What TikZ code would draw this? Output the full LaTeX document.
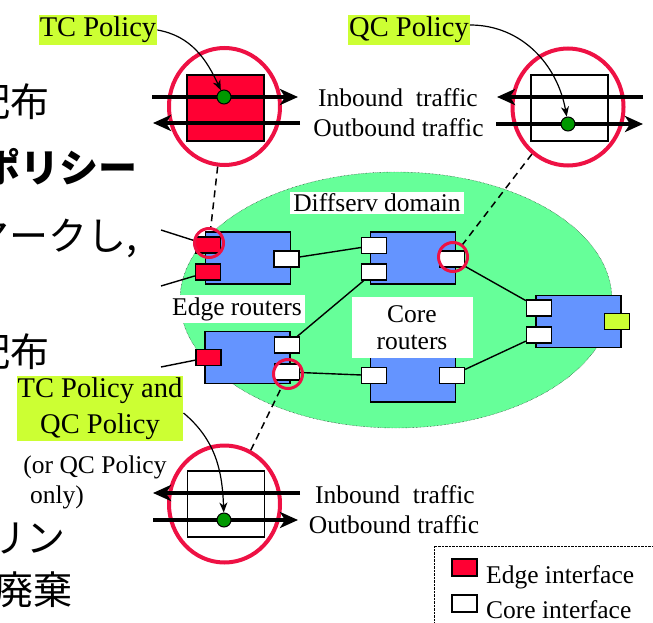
\documentclass[tikz,border=0pt]{standalone}
\usepackage{fontspec}
\setmainfont{Liberation Serif}
\newfontfamily\jpfont{Noto Sans CJK JP}
\usetikzlibrary{arrows.meta,shapes.geometric}
\definecolor{domaingreen}{HTML}{66FF99}
\definecolor{routerblue}{HTML}{6494FF}
\definecolor{edgered}{HTML}{FF0033}
\definecolor{ringred}{HTML}{EE1144}
\definecolor{policylime}{HTML}{CCFF33}
\definecolor{dotgreen}{HTML}{009900}

\begin{document}
\begin{tikzpicture}[x=1pt,y=-1pt]
\tikzset{router/.style = {draw,fill=routerblue,line width=1.3pt,minimum width=85pt,minimum height=52pt,inner sep=0pt}}
\tikzset{edgeif/.style = {draw,fill=edgered,line width=1.3pt,minimum width=25pt,minimum height=16pt,inner sep=0pt}}
\tikzset{coreif/.style = {edgeif,fill=white}}
\tikzset{limeif/.style = {edgeif,fill=policylime}}
\tikzset{ring/.style = {draw=ringred,line width=4pt,shape=ellipse,minimum width=111pt,minimum height=117pt}}
\tikzset{spot/.style = {draw=ringred,line width=3pt,shape=circle,minimum size=29pt,inner sep=0pt}}
\tikzset{lens/.style = {draw,line width=1.3pt,minimum width=77pt,minimum height=66pt,inner sep=0pt}}
\tikzset{dot/.style = {draw,line width=1pt,fill=dotgreen,shape=circle,minimum size=14pt,inner sep=0pt}}
\tikzset{flow/.style = {line width=4pt,-{Stealth[length=18pt,width=16pt,inset=5pt]}}}
\tikzset{hint/.style = {line width=1.2pt,-{Stealth[length=10pt,width=8pt,inset=3pt]}}}
\tikzset{link/.style = {line width=1.4pt}}
\tikzset{zoomline/.style = {line width=1.5pt,dash pattern=on 7pt off 5pt}}
\tikzset{policy/.style = {fill=policylime,inner xsep=1pt,inner ysep=2pt,font=\fontsize{28.5}{36}\selectfont,align=center}}
\tikzset{tag/.style = {fill=white,inner xsep=3pt,inner ysep=2pt,font=\fontsize{25.5}{31}\selectfont,align=center}}
\tikzset{txt/.style = {inner sep=0pt,anchor=base,font=\fontsize{25.5}{31}\selectfont}}
\tikzset{jp/.style = {inner sep=0pt,anchor=base east,font=\jpfont\fontsize{39}{40}\selectfont}}
\useasboundingbox (0,0) rectangle (653,623);
% slide text cut at the left edge
\node[jp] (j1) at (50,117) {配布};
\node[jp,font=\jpfont\bfseries\fontsize{39}{40}\selectfont] (j2) at (138,182) {ポリシー};
\node[jp] (j3) at (138,250) {マークし,};
\node[jp] (j4) at (50,366) {配布};
\node[jp] (j5) at (66,552) {リン};
\node[jp] (j6) at (73,604) {廃棄};
% domain
\draw[densely dotted,fill=domaingreen] (396,300) ellipse [x radius=216pt, y radius=128pt];
% routers
\node[router] (r1) at (248,258)   {};
\node[router] (r2) at (247.5,357.5) {};
\node[router] (r3) at (413,258)   {};
\node[router] (r4) at (413,376)   {};
\node[router] (r5) at (578.5,321.5) {};
% interfaces
\node[edgeif] (e1a) at (208,245)   {};
\node[edgeif] (e1b) at (208,272)   {};
\node[coreif] (c1)  at (286.5,259) {};
\node[edgeif] (e2)  at (208.5,357.5) {};
\node[coreif] (c2a) at (287,345)   {};
\node[coreif] (c2b) at (287,372)   {};
\node[coreif] (c3a) at (374,245.5) {};
\node[coreif] (c3b) at (374,272)   {};
\node[coreif] (c3c) at (452,259)   {};
\node[coreif] (c4a) at (374,375.5) {};
\node[coreif] (c4b) at (452,375.5) {};
\node[coreif] (c5a) at (539,308)   {};
\node[coreif] (c5b) at (539,335)   {};
\node[limeif] (y5)  at (617,321.5) {};
% links
\coordinate (x1) at (161,230);
\coordinate (x2) at (161,286);
\coordinate (x3) at (161,367);
\draw[link] (x1) -- (e1a);
\draw[link] (x2) -- (e1b);
\draw[link] (x3) -- (e2);
\draw[link] (c1) -- (c3a);
\draw[link] (c2a) -- (c3b);
\draw[link] (c2b) -- (c4a);
\draw[link] (c3c) -- (c5a);
\draw[link] (c4b) -- (c5b);
% labels
\node[tag] (dom)   at (377,203) {Diffserv domain};
\node[tag] (edger) at (237,309) {Edge routers};
\node[tag,minimum width=121pt,minimum height=61pt] (corer) at (412,327.5) {Core\\[-4pt]routers};
% spots
\node[spot] (zr1) at (209,243) {};
\node[spot] (zr2) at (453,257) {};
\node[spot] (zr3) at (288,374) {};
% magnifiers
\node[ring] (mag1) at (224.5,106.5) {};
\node[ring] (mag2) at (568,107)   {};
\node[ring] (mag3) at (224.5,504) {};
\draw[zoomline] (mag1) -- (zr1);
\draw[zoomline] (mag2) -- (zr2);
\draw[zoomline] (mag3) -- (zr3);
\node[lens,fill=edgered] (lens1) at (225.5,108) {};
\node[lens,fill=white]   (lens2) at (569.5,108) {};
\node[lens,fill=white]   (lens3) at (226,504)   {};
% traffic
\coordinate (p1) at (152,97);  \coordinate (q1) at (298,97);
\coordinate (p2) at (300,123); \coordinate (q2) at (153,123);
\coordinate (p3) at (643,97);  \coordinate (q3) at (497,97);
\coordinate (p4) at (496,124); \coordinate (q4) at (643,124);
\coordinate (p5) at (300,493); \coordinate (q5) at (153,493);
\coordinate (p6) at (153,520); \coordinate (q6) at (298,520);
\draw[flow] (p1) -- (q1);
\draw[flow] (p2) -- (q2);
\draw[flow] (p3) -- (q3);
\draw[flow] (p4) -- (q4);
\draw[flow] (p5) -- (q5);
\draw[flow] (p6) -- (q6);
\node[dot] (dot1) at (224,97)  {};
\node[dot] (dot2) at (568,124) {};
\node[dot] (dot3) at (224,520) {};
\node[txt] (in1)  at (398,107)   {Inbound\ \ traffic};
\node[txt] (out1) at (398.5,137) {Outbound traffic};
\node[txt] (in2)  at (395,503)   {Inbound\ \ traffic};
\node[txt] (out2) at (394,533)   {Outbound traffic};
% policies
\node[policy] (tcp)   at (98,30)  {TC Policy};
\node[policy] (qcp)   at (409,30) {QC Policy};
\node[policy] (bothp) at (100,408.5) {TC Policy and\\QC Policy};
\node[txt] (or1) at (95,473) {(or QC Policy};
\node[txt] (or2) at (57,503) {only)};
\draw[hint] (tcp.east) to[out=-10,in=115] (dot1);
\draw[hint] ([yshift=5pt]qcp.east) to[out=0,in=100] (dot2);
\draw[hint] ([yshift=-4.5pt]bothp.east) to[out=-40,in=92] (dot3);
% legend
\draw[densely dotted] (434,546) rectangle (660,630);
\node[edgeif,minimum height=17pt] (le) at (464.5,567.5) {};
\node[coreif,minimum height=17pt] (lc) at (464.5,603.5) {};
\node[txt,anchor=base west] (let) at (486,583) {Edge interface};
\node[txt,anchor=base west] (lct) at (486,618) {Core interface};
\end{tikzpicture}
\end{document}
